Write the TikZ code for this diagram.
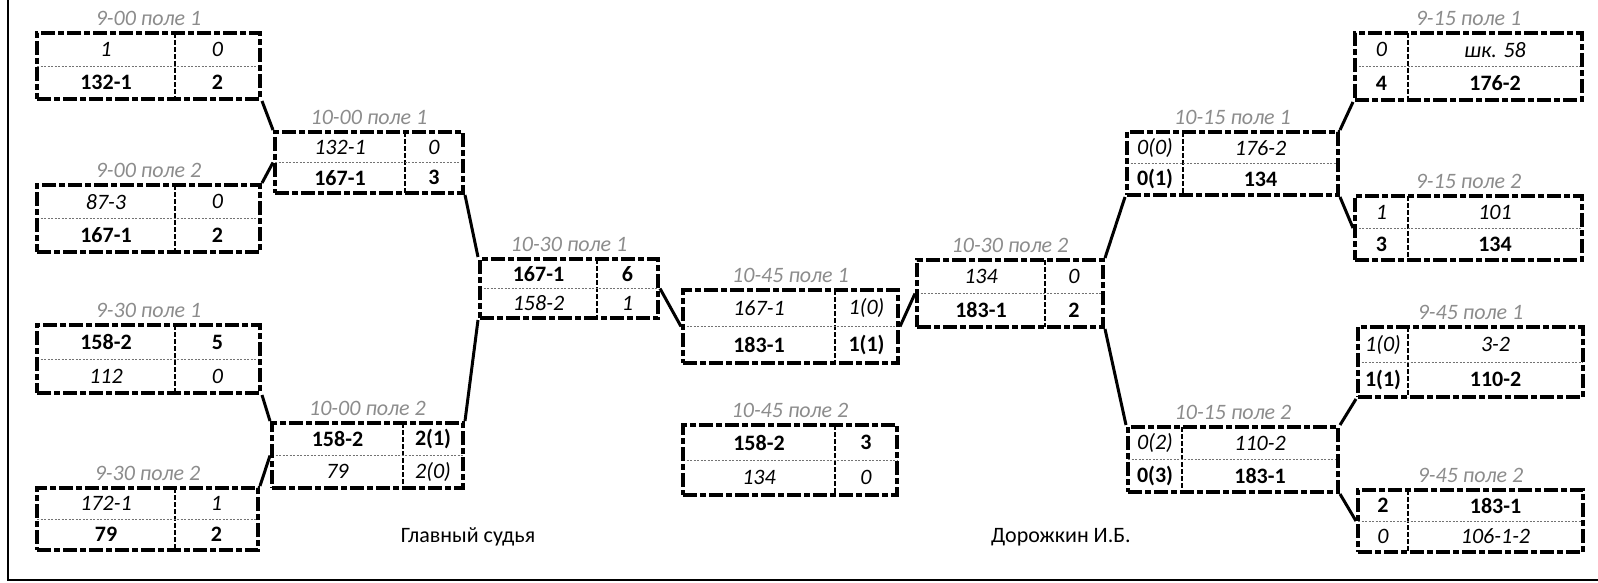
\documentclass[tikz,border=0pt]{standalone}
\usepackage{fontspec}
\setmainfont{Carlito}
\tikzset{
  gbox/.style={draw=black, line width=4pt, dash pattern=on 14pt off 3pt on 6pt off 3pt, inner sep=0pt},
  vdiv/.style={draw=black, line width=1.5pt, dash pattern=on 5pt off 2pt},
  hdiv/.style={draw=black!55, line width=0.9pt, dash pattern=on 2pt off 1.5pt},
  ttl/.style={font=\fontsize{22}{26}\selectfont\itshape, text=black!45, inner sep=0pt},
  cell/.style={font=\fontsize{22}{26}\selectfont, inner sep=0pt},
  lbl/.style={font=\fontsize{22}{26}\selectfont, inner sep=0pt},
  conn/.style={draw=black, line width=3pt},
}
\newcommand\gamebox[7]{%
  \draw[vdiv] (#6,#3) -- (#6,#5);
  \draw[hdiv] (#2,{(#3+#5)/2}) -- (#4,{(#3+#5)/2});
  \node[gbox, minimum width={#4-#2}, minimum height={#5-#3}] (#1) at ({(#2+#4)/2},{(#3+#5)/2}) {};
  \node[ttl] (#1-t) at ({(#2+#4)/2},{#3-15}) {#7};
  \coordinate (#1-a) at ({(#2+#6)/2},{#3+(#5-#3)/4});
  \coordinate (#1-b) at ({(#6+#4)/2},{#3+(#5-#3)/4});
  \coordinate (#1-c) at ({(#2+#6)/2},{#3+3*(#5-#3)/4});
  \coordinate (#1-d) at ({(#6+#4)/2},{#3+3*(#5-#3)/4});
}
\newcommand\gcells[5]{%
  \node[cell] (#1-ta) at (#1-a) {#2};
  \node[cell] (#1-tb) at (#1-b) {#3};
  \node[cell] (#1-tc) at (#1-c) {#4};
  \node[cell] (#1-td) at (#1-d) {#5};
}
\newcommand\B[1]{\textbf{#1}}
\newcommand\I[1]{\textit{#1}}
\begin{document}
\begin{tikzpicture}[x=1pt,y=-1pt]
\useasboundingbox (0,0) rectangle (1598,583);
% frame
\draw[line width=2.5pt] (8,0) -- (8,580) -- (1598,580);
% boxes
\gamebox{A1}{37}{33}{260}{99}{175}{9-00 поле 1}
\gcells{A1}{\I{1}}{\I{0}}{\B{132-1}}{\B{2}}
\gamebox{A2}{37}{185}{260}{252}{175}{9-00 поле 2}
\gcells{A2}{\I{87-3}}{\I{0}}{\B{167-1}}{\B{2}}
\gamebox{A3}{37}{325}{260}{393}{175}{9-30 поле 1}
\gcells{A3}{\B{158-2}}{\B{5}}{\I{112}}{\I{0}}
\gamebox{A4}{37}{488}{258}{550}{175}{9-30 поле 2}
\gcells{A4}{\I{172-1}}{\I{1}}{\B{79}}{\B{2}}
\gamebox{B1}{275}{132}{463}{193}{405}{10-00 поле 1}
\gcells{B1}{\I{132-1}}{\I{0}}{\B{167-1}}{\B{3}}
\gamebox{B2}{272}{423}{463}{488}{403}{10-00 поле 2}
\gcells{B2}{\B{158-2}}{\B{2(1)}}{\I{79}}{\I{2(0)}}
\gamebox{C1}{480}{259}{658}{318}{597}{10-30 поле 1}
\gcells{C1}{\B{167-1}}{\B{6}}{\I{158-2}}{\I{1}}
\gamebox{D1}{683}{290}{898}{363}{835}{10-45 поле 1}
\gcells{D1}{\I{167-1}}{\I{1(0)}}{\B{183-1}}{\B{1(1)}}
\gamebox{D2}{683}{425}{897}{495}{835}{10-45 поле 2}
\gcells{D2}{\B{158-2}}{\B{3}}{\I{134}}{\I{0}}
\gamebox{E}{917}{260}{1103}{327}{1045}{10-30 поле 2}
\gcells{E}{\I{134}}{\I{0}}{\B{183-1}}{\B{2}}
\gamebox{F1}{1127}{132}{1338}{195}{1183}{10-15 поле 1}
\gcells{F1}{\I{0(0)}}{\I{176-2}}{\B{0(1)}}{\B{134}}
\gamebox{F2}{1128}{427}{1338}{492}{1182}{10-15 поле 2}
\gcells{F2}{\I{0(2)}}{\I{110-2}}{\B{0(3)}}{\B{183-1}}
\gamebox{G1}{1355}{33}{1582}{100}{1408}{9-15 поле 1}
\gcells{G1}{\I{0}}{\I{шк. 58}}{\B{4}}{\B{176-2}}
\gamebox{G2}{1355}{196}{1582}{260}{1408}{9-15 поле 2}
\gcells{G2}{\I{1}}{\I{101}}{\B{3}}{\B{134}}
\gamebox{H1}{1358}{327}{1583}{397}{1408}{9-45 поле 1}
\gcells{H1}{\I{1(0)}}{\I{3-2}}{\B{1(1)}}{\B{110-2}}
\gamebox{H2}{1358}{490}{1583}{552}{1408}{9-45 поле 2}
\gcells{H2}{\B{2}}{\B{183-1}}{\I{0}}{\I{106-1-2}}
% connectors
\draw[conn] (A1.south east) -- (B1.north west);
\draw[conn] (A2.north east) -- (B1.west);
\draw[conn] (A3.south east) -- (B2.north west);
\draw[conn] (A4.north east) -- (B2.west);
\draw[conn] (B1.south east) -- (C1.north west);
\draw[conn] (B2.north east) -- (C1.south west);
\draw[conn] (C1.east) -- (D1.west);
\draw[conn] (D1.east) -- (E.west);
\draw[conn] (E.north east) -- (F1.south west);
\draw[conn] (E.south east) -- (F2.north west);
\draw[conn] (F1.north east) -- (G1.south west);
\draw[conn] (F1.south east) -- (G2.west);
\draw[conn] (F2.north east) -- (H1.south west);
\draw[conn] (F2.south east) -- (H2.west);
% labels
\node[lbl] (judge) at (468,537) {Главный судья};
\node[lbl] (name) at (1061,537) {Дорожкин И.Б.};
\end{tikzpicture}
\end{document}
